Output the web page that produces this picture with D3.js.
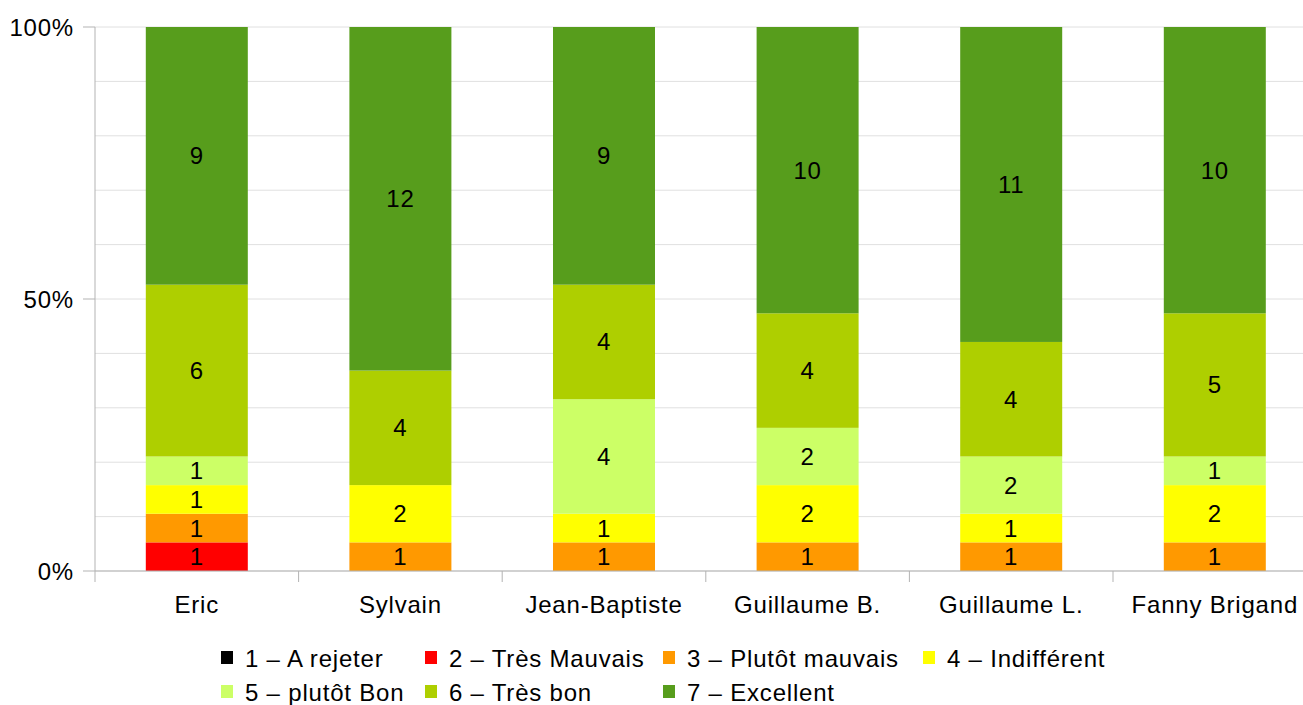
<!DOCTYPE html>
<html><head><meta charset="utf-8">
<script src="https://cdn.jsdelivr.net/npm/d3@7"></script>
<style>body{margin:0;background:#fff;} text{font-family:"Liberation Sans",Arial,sans-serif;letter-spacing:0.8px;}</style>
</head><body>
<svg id="c" width="1303" height="705"></svg>
<script>
const categories = ["Eric","Sylvain","Jean-Baptiste","Guillaume B.","Guillaume L.","Fanny Brigand"];
const seriesNames = ["1 – A rejeter","2 – Très Mauvais","3 – Plutôt mauvais","4 – Indifférent","5 – plutôt Bon","6 – Très bon","7 – Excellent"];
const seriesColors = ["#000000","#ff0000","#ff9900","#ffff00","#ccff66","#aecf00","#579d1c"];
const s1 = [0,0,0,0,0,0];
const s2 = [1,0,0,0,0,0];
const s3 = [1,1,1,1,1,1];
const s4 = [1,2,1,2,1,2];
const s5 = [1,0,4,2,2,1];
const s6 = [6,4,4,4,4,5];
const s7 = [9,12,9,10,11,10];
const yTicks = [0,0.5,1];
const yMinor = [0.1,0.2,0.3,0.4,0.6,0.7,0.8,0.9];

const series = [s1,s2,s3,s4,s5,s6,s7];
const svg = d3.select("#c");
const L = 95, T = 27, B = 571, bandW = 203.6;
const FS = 24;
const x = d3.scaleBand().domain(categories).range([L, L + bandW*categories.length]).paddingInner(0).paddingOuter(0);
const y = d3.scaleLinear().domain([0,1]).range([B, T]);

// gridlines
svg.append("g").selectAll("line").data(yMinor.concat(yTicks)).join("line")
  .attr("x1", L).attr("x2", 1303).attr("y1", d=>y(d)).attr("y2", d=>y(d))
  .attr("stroke", "#e0e0e0").attr("stroke-width", 1);

// stacked data
const rows = categories.map((c,i)=>{const o={cat:c}; series.forEach((s,j)=>o["s"+j]=s[i]); return o;});
const keys = series.map((s,j)=>"s"+j);
const stack = d3.stack().keys(keys).offset(d3.stackOffsetExpand)(rows);
const barW = 102;
stack.forEach((layer,j)=>{
  const g = svg.append("g");
  layer.forEach((d,i)=>{
    const v = series[j][i];
    if (!v) return;
    const cx = x(categories[i]) + x.bandwidth()/2;
    g.append("rect").attr("x", cx - barW/2).attr("width", barW)
      .attr("y", y(d[1])).attr("height", y(d[0]) - y(d[1]))
      .attr("fill", seriesColors[j]);
    g.append("text").attr("x", cx).attr("y", (y(d[0])+y(d[1]))/2 + 8.5)
      .attr("text-anchor","middle").attr("font-size", FS).attr("fill","#000").text(v);
  });
});

// axes
const axisColor = "#b3b3b3";
svg.append("line").attr("x1", L).attr("x2", L).attr("y1", T).attr("y2", B).attr("stroke", axisColor);
svg.append("line").attr("x1", L).attr("x2", 1303).attr("y1", B).attr("y2", B).attr("stroke", axisColor);
svg.append("g").selectAll("line").data(yTicks).join("line")
  .attr("x1", L-12).attr("x2", L).attr("y1", d=>y(d)).attr("y2", d=>y(d)).attr("stroke", axisColor);
svg.append("g").selectAll("text").data(yTicks).join("text")
  .attr("x", 74).attr("y", d=>y(d)+8.5).attr("text-anchor","end").attr("font-size",FS)
  .text(d=>d3.format(".0%")(d));
const xTickPos = d3.range(categories.length+1).map(i=>L + i*bandW);
svg.append("g").selectAll("line").data(xTickPos).join("line")
  .attr("x1", d=>d).attr("x2", d=>d).attr("y1", B).attr("y2", B+11).attr("stroke", axisColor);
svg.append("g").selectAll("text").data(categories).join("text")
  .attr("x", d=>x(d)+x.bandwidth()/2).attr("y", 613).attr("text-anchor","middle").attr("font-size",FS)
  .text(d=>d);

// legend
const legX = [221,425,663,923,221,425,663];
const legY = [658,658,658,658,692,692,692];
const lg = svg.append("g");
seriesNames.forEach((n,j)=>{
  lg.append("rect").attr("x", legX[j]).attr("y", legY[j]-7).attr("width", 12).attr("height", 13).attr("fill", seriesColors[j]);
  lg.append("text").attr("x", legX[j]+24).attr("y", legY[j]+8.5).attr("font-size",FS).text(n);
});
</script>
</body></html>
